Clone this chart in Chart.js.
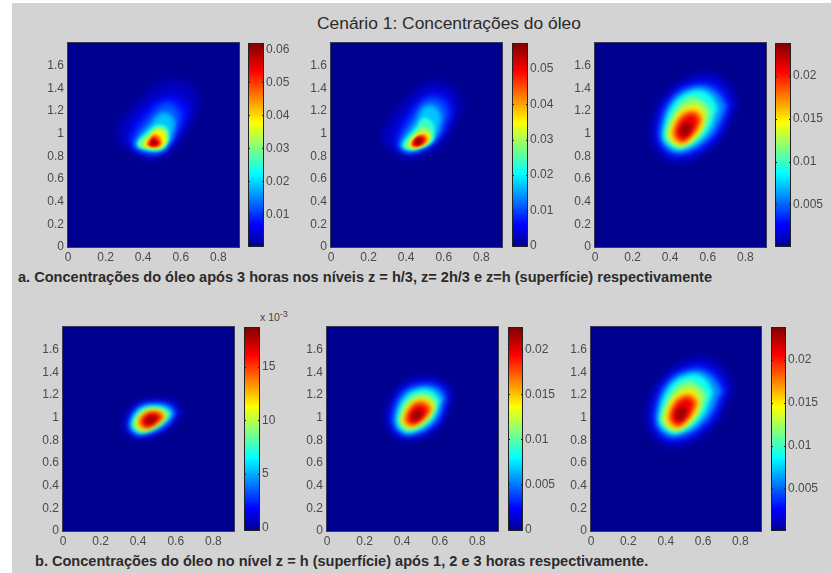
<!DOCTYPE html>
<html>
<head>
<meta charset="utf-8">
<title>Cenário 1: Concentrações do óleo</title>
<script src="https://cdn.jsdelivr.net/npm/chart.js@4"></script>
<style>
    html, body { margin: 0; padding: 0; background: #fff; }
    #page { position: absolute; left: 12px; top: 3px; width: 819px; height: 570px; background: #d3d3d3; }
    #stage { position: absolute; left: 0; top: 0; width: 831px; height: 573px; overflow: hidden; }
    canvas { position: absolute; }
    .txt { position: absolute; font-family: "Liberation Sans", Arial, sans-serif; white-space: nowrap; color: #2b2b2b; }
    #title { left: 317px; top: 13px; font-size: 17.4px; }
    #capA { left: 18px; top: 269px; font-size: 14.55px; font-weight: bold; }
    #capB { left: 35px; top: 553px; font-size: 14.55px; font-weight: bold; }
    #exp { left: 260px; top: 311px; font-size: 10.5px; color: #444; }
    #exp sup { font-size: 9px; line-height: 0; }
</style>
</head>
<body>
<div id="page"></div>
<div id="stage">
    <div class="txt" id="title">Cenário 1: Concentrações do óleo</div>
    <div class="txt" id="capA">a. Concentrações do óleo após 3 horas nos níveis z = h/3, z= 2h/3 e z=h (superfície) respectivamente</div>
    <div class="txt" id="capB">b. Concentrações do óleo no nível z = h (superfície) após 1, 2 e 3 horas respectivamente.</div>
    <div class="txt" id="exp">x 10<sup>-3</sup></div>
</div>
<script>
const xTicks = [0, 0.2, 0.4, 0.6, 0.8];
const yTicks = [0, 0.2, 0.4, 0.6, 0.8, 1, 1.2, 1.4, 1.6];
const xLimit = 0.91;
const yLimit = 1.8;

// colorbar ranges and ticks
const barRanges = [[0.0001, 0.0619], [-0.0003, 0.0573], [0.00005, 0.0238], [-0.3, 18.7], [-0.0002, 0.0225], [0.00005, 0.0238]];
const barTicks = [
    [0.01, 0.02, 0.03, 0.04, 0.05, 0.06],
    [0, 0.01, 0.02, 0.03, 0.04, 0.05],
    [0.005, 0.01, 0.015, 0.02],
    [0, 5, 10, 15],
    [0, 0.005, 0.01, 0.015, 0.02],
    [0.005, 0.01, 0.015, 0.02],
];

// contour lines: level value, then x and y of each line
const levelsH3 = [0.0031, 0.0074, 0.0124, 0.0186, 0.025, 0.031, 0.0385, 0.0465, 0.0542, 0.06];
const xH3 = [
    [0.704, 0.651, 0.526, 0.348, 0.26, 0.322, 0.473, 0.597],
    [0.651, 0.615, 0.517, 0.393, 0.322, 0.357, 0.473, 0.579],
    [0.606, 0.571, 0.508, 0.419, 0.348, 0.366, 0.482, 0.562],
    [0.571, 0.544, 0.494, 0.437, 0.363, 0.37, 0.487, 0.547],
    [0.535, 0.523, 0.473, 0.419, 0.37, 0.38, 0.491, 0.535],
    [0.531, 0.517, 0.473, 0.428, 0.38, 0.393, 0.487, 0.526],
    [0.523, 0.508, 0.464, 0.434, 0.402, 0.414, 0.482, 0.517],
    [0.499, 0.482, 0.455, 0.437, 0.419, 0.428, 0.469, 0.498],
    [0.487, 0.473, 0.455, 0.441, 0.43, 0.437, 0.462, 0.483],
    [0.473, 0.464, 0.453, 0.444, 0.439, 0.444, 0.459, 0.469],
];
const yH3 = [
    [1.3, 1.432, 1.476, 1.241, 1.006, 0.859, 0.785, 0.947],
    [1.182, 1.3, 1.329, 1.182, 0.976, 0.865, 0.824, 0.976],
    [1.153, 1.247, 1.271, 1.124, 0.947, 0.874, 0.835, 0.976],
    [1.094, 1.168, 1.182, 1.079, 0.932, 0.874, 0.844, 0.947],
    [1.021, 1.065, 1.079, 1.012, 0.924, 0.876, 0.853, 0.932],
    [1.006, 1.041, 1.05, 0.991, 0.918, 0.882, 0.865, 0.924],
    [0.962, 1.021, 1.029, 0.976, 0.912, 0.885, 0.874, 0.918],
    [0.932, 0.982, 0.991, 0.962, 0.912, 0.888, 0.879, 0.903],
    [0.918, 0.953, 0.971, 0.947, 0.912, 0.894, 0.888, 0.9],
    [0.915, 0.935, 0.941, 0.929, 0.912, 0.9, 0.897, 0.903],
];

const levels2H3 = [0.0029, 0.0069, 0.0115, 0.0172, 0.0229, 0.0287, 0.0355, 0.043, 0.0501, 0.0556];
const x2H3 = [
    [0.695, 0.651, 0.527, 0.385, 0.27, 0.323, 0.456, 0.598],
    [0.651, 0.616, 0.518, 0.412, 0.341, 0.367, 0.456, 0.58],
    [0.624, 0.589, 0.509, 0.429, 0.364, 0.381, 0.456, 0.571],
    [0.589, 0.562, 0.5, 0.447, 0.371, 0.389, 0.459, 0.553],
    [0.553, 0.527, 0.488, 0.452, 0.381, 0.399, 0.465, 0.541],
    [0.536, 0.518, 0.483, 0.447, 0.399, 0.412, 0.47, 0.53],
    [0.527, 0.509, 0.474, 0.442, 0.417, 0.429, 0.474, 0.518],
    [0.516, 0.5, 0.474, 0.447, 0.426, 0.435, 0.474, 0.509],
    [0.5, 0.488, 0.465, 0.447, 0.435, 0.442, 0.47, 0.495],
    [0.483, 0.474, 0.459, 0.45, 0.443, 0.45, 0.465, 0.481],
];
const y2H3 = [
    [1.241, 1.403, 1.453, 1.271, 0.976, 0.859, 0.8, 0.947],
    [1.212, 1.329, 1.344, 1.182, 0.947, 0.859, 0.835, 0.976],
    [1.182, 1.285, 1.3, 1.138, 0.918, 0.859, 0.85, 0.976],
    [1.138, 1.226, 1.241, 1.094, 0.912, 0.859, 0.859, 0.962],
    [1.05, 1.124, 1.138, 1.05, 0.906, 0.862, 0.865, 0.932],
    [1.006, 1.05, 1.065, 1.006, 0.912, 0.868, 0.874, 0.932],
    [0.976, 1.012, 1.006, 0.976, 0.912, 0.879, 0.882, 0.932],
    [0.962, 0.991, 0.991, 0.962, 0.912, 0.885, 0.888, 0.926],
    [0.953, 0.974, 0.976, 0.953, 0.912, 0.894, 0.894, 0.924],
    [0.941, 0.956, 0.959, 0.941, 0.918, 0.903, 0.903, 0.921],
];

// surface after 3 hours, same field in the top right and bottom right panels
const levelsSurf3 = [0.0014, 0.0033, 0.006, 0.0089, 0.0119, 0.0149, 0.0179, 0.0208, 0.0231];
const xSurf3 = [
    [0.763, 0.70, 0.577, 0.408, 0.30, 0.328, 0.452, 0.65],
    [0.727, 0.665, 0.559, 0.408, 0.332, 0.355, 0.456, 0.635],
    [0.70, 0.644, 0.55, 0.417, 0.349, 0.367, 0.458, 0.615],
    [0.656, 0.612, 0.532, 0.42, 0.364, 0.381, 0.461, 0.59],
    [0.621, 0.577, 0.514, 0.435, 0.376, 0.396, 0.465, 0.575],
    [0.585, 0.559, 0.506, 0.443, 0.394, 0.408, 0.467, 0.56],
    [0.573, 0.541, 0.502, 0.452, 0.413, 0.426, 0.47, 0.545],
    [0.55, 0.527, 0.491, 0.458, 0.431, 0.443, 0.474, 0.53],
    [0.514, 0.502, 0.484, 0.463, 0.452, 0.461, 0.481, 0.506],
];
const ySurf3 = [
    [1.27, 1.46, 1.535, 1.40, 1.09, 0.844, 0.741, 0.918],
    [1.256, 1.41, 1.46, 1.344, 1.08, 0.874, 0.794, 0.947],
    [1.24, 1.37, 1.42, 1.315, 1.05, 0.894, 0.829, 0.976],
    [1.226, 1.344, 1.382, 1.27, 1.02, 0.912, 0.859, 0.991],
    [1.197, 1.285, 1.324, 1.226, 1.006, 0.924, 0.879, 1.02],
    [1.153, 1.235, 1.247, 1.182, 1.006, 0.932, 0.897, 1.02],
    [1.138, 1.197, 1.203, 1.153, 1.012, 0.947, 0.918, 1.03],
    [1.124, 1.168, 1.162, 1.118, 1.02, 0.962, 0.941, 1.035],
    [1.065, 1.10, 1.094, 1.07, 1.012, 0.982, 0.976, 1.02],
];

// surface after 1 hour, levels in units of 10^-3
const levelsSurf1 = [0.84, 2.36, 4.45, 6.8, 9.2, 11.6, 13.95, 16.3, 18.1];
const xSurf1 = [
    [0.639, 0.594, 0.497, 0.39, 0.323, 0.346, 0.417, 0.568],
    [0.612, 0.582, 0.493, 0.394, 0.341, 0.358, 0.417, 0.55],
    [0.594, 0.568, 0.488, 0.399, 0.355, 0.369, 0.422, 0.541],
    [0.582, 0.55, 0.483, 0.408, 0.365, 0.38, 0.429, 0.529],
    [0.564, 0.536, 0.479, 0.417, 0.376, 0.39, 0.436, 0.518],
    [0.55, 0.529, 0.475, 0.422, 0.39, 0.401, 0.443, 0.511],
    [0.541, 0.518, 0.472, 0.429, 0.404, 0.415, 0.451, 0.504],
    [0.525, 0.506, 0.468, 0.436, 0.419, 0.429, 0.458, 0.493],
    [0.50, 0.488, 0.465, 0.447, 0.436, 0.443, 0.465, 0.486],
];
const ySurf1 = [
    [1.054, 1.143, 1.163, 1.128, 0.951, 0.857, 0.81, 0.907],
    [1.046, 1.113, 1.143, 1.099, 0.951, 0.869, 0.834, 0.916],
    [1.04, 1.099, 1.122, 1.084, 0.951, 0.878, 0.851, 0.928],
    [1.034, 1.084, 1.105, 1.069, 0.951, 0.887, 0.863, 0.937],
    [1.025, 1.069, 1.087, 1.054, 0.957, 0.898, 0.878, 0.946],
    [1.016, 1.054, 1.069, 1.04, 0.957, 0.907, 0.892, 0.951],
    [1.01, 1.046, 1.054, 1.025, 0.963, 0.919, 0.907, 0.951],
    [1.004, 1.034, 1.04, 1.016, 0.966, 0.931, 0.922, 0.957],
    [0.993, 1.016, 1.016, 0.999, 0.969, 0.946, 0.94, 0.963],
];

// surface after 2 hours
const levelsSurf2 = [0.0013, 0.0031, 0.0056, 0.0084, 0.0112, 0.014, 0.0169, 0.0197, 0.0218];
const xSurf2 = [
    [0.673, 0.62, 0.531, 0.398, 0.315, 0.336, 0.434, 0.60],
    [0.646, 0.598, 0.517, 0.404, 0.34, 0.358, 0.439, 0.585],
    [0.629, 0.584, 0.51, 0.411, 0.358, 0.372, 0.443, 0.572],
    [0.606, 0.567, 0.505, 0.421, 0.372, 0.386, 0.446, 0.558],
    [0.588, 0.552, 0.496, 0.428, 0.386, 0.40, 0.45, 0.545],
    [0.572, 0.544, 0.492, 0.434, 0.397, 0.411, 0.453, 0.535],
    [0.559, 0.531, 0.489, 0.443, 0.411, 0.425, 0.457, 0.525],
    [0.54, 0.513, 0.482, 0.451, 0.428, 0.439, 0.464, 0.51],
    [0.51, 0.496, 0.478, 0.46, 0.45, 0.457, 0.475, 0.499],
];
const ySurf2 = [
    [1.216, 1.32, 1.358, 1.29, 1.054, 0.878, 0.798, 0.922],
    [1.202, 1.29, 1.311, 1.246, 1.04, 0.892, 0.834, 0.946],
    [1.181, 1.261, 1.281, 1.217, 1.025, 0.898, 0.851, 0.957],
    [1.158, 1.231, 1.252, 1.187, 1.01, 0.907, 0.869, 0.975],
    [1.128, 1.193, 1.211, 1.152, 0.996, 0.922, 0.892, 0.987],
    [1.099, 1.158, 1.172, 1.113, 0.987, 0.928, 0.91, 0.996],
    [1.084, 1.134, 1.149, 1.099, 0.987, 0.94, 0.928, 0.996],
    [1.069, 1.108, 1.113, 1.075, 0.996, 0.957, 0.946, 0.996],
    [1.046, 1.069, 1.063, 1.046, 1.004, 0.981, 0.975, 1.004],
];

// softness of each contour, outermost first
const plumeBlur = [5, 4.5, 3.5, 2.5, 1.8, 1.4, 1.1, 1, 1, 1];
const blobBlur = [3.5, 3, 2.5, 2, 2, 2, 2, 2, 2];

// where each panel sits on the page
const panels = [
    {px: 68, py: 43, pw: 171, ph: 204, bx: 248, bw: 16, blur: plumeBlur, levels: levelsH3, xs: xH3, ys: yH3},
    {px: 331, py: 43, pw: 171, ph: 204, bx: 512, bw: 16, blur: plumeBlur, levels: levels2H3, xs: x2H3, ys: y2H3},
    {px: 595, py: 43, pw: 171, ph: 204, bx: 775, bw: 16, blur: blobBlur, levels: levelsSurf3, xs: xSurf3, ys: ySurf3},
    {px: 63, py: 327, pw: 171, ph: 204, bx: 244, bw: 16, blur: blobBlur, levels: levelsSurf1, xs: xSurf1, ys: ySurf1},
    {px: 327, py: 327, pw: 171, ph: 204, bx: 508, bw: 15, blur: blobBlur, levels: levelsSurf2, xs: xSurf2, ys: ySurf2},
    {px: 591, py: 327, pw: 170, ph: 204, bx: 771, bw: 15, blur: blobBlur, levels: levelsSurf3, xs: xSurf3, ys: ySurf3},
];

const JET = [[0, 0, 0, 143], [0.11, 0, 0, 255], [0.36, 0, 255, 255], [0.61, 255, 255, 0], [0.86, 255, 0, 0], [1, 128, 0, 0]];
const LABEL_FONT = {family: '"Liberation Sans", Arial, sans-serif', size: 12};
const LABEL_COLOR = '#4a4a4a';

function jetColor(f) {
    for (let i = 1; i < JET.length; i++) {
        if (f <= JET[i][0]) {
            const a = JET[i - 1], b = JET[i];
            const t = (f - a[0]) / (b[0] - a[0]);
            const c = [1, 2, 3].map(k => Math.round(a[k] + (b[k] - a[k]) * t));
            return `rgb(${c[0]}, ${c[1]}, ${c[2]})`;
        }
    }
    return 'rgb(128, 0, 0)';
}

function addCanvas(left, top, width, height) {
    const canvas = document.createElement('canvas');
    canvas.width = width;
    canvas.height = height;
    canvas.style.left = left + 'px';
    canvas.style.top = top + 'px';
    canvas.style.width = width + 'px';
    canvas.style.height = height + 'px';
    document.getElementById('stage').appendChild(canvas);
    return canvas;
}

// dark blue field under the contours, soft edges for the contours themselves
function fieldPlugin(blur) {
    return {
        id: 'field',
        beforeDatasetsDraw(chart) {
            const {ctx, chartArea: a} = chart;
            ctx.save();
            ctx.fillStyle = '#00008f';
            ctx.fillRect(a.left, a.top, a.width, a.height);
            ctx.filter = `blur(${blur[0]}px)`;
        },
        // the filler paints in beforeDatasetDraw ahead of this plugin, so set up the next contour here
        afterDatasetDraw(chart, args) {
            const next = blur[args.index + 1];
            if (next) chart.ctx.filter = `blur(${next}px)`;
        },
        afterDatasetsDraw(chart) {
            const {ctx, chartArea: a} = chart;
            ctx.restore();
            ctx.strokeStyle = '#3a3a55';
            ctx.lineWidth = 1;
            ctx.strokeRect(a.left - 0.5, a.top - 0.5, a.width + 1, a.height + 1);
        },
    };
}

const barTickPlugin = {
    id: 'barTicks',
    afterDatasetsDraw(chart) {
        const {ctx, chartArea: a, scales} = chart;
        ctx.strokeStyle = '#222';
        ctx.lineWidth = 1;
        ctx.strokeRect(a.left + 0.5, a.top + 0.5, a.width - 1, a.height - 1);
        ctx.beginPath();
        scales.y.ticks.forEach(t => {
            const y = Math.round(scales.y.getPixelForValue(t.value)) + 0.5;
            ctx.moveTo(a.left, y);
            ctx.lineTo(a.left + 2, y);
            ctx.moveTo(a.right - 2, y);
            ctx.lineTo(a.right, y);
        });
        ctx.stroke();
    },
};

// axes must not reserve extra room for half a label, the plot size is fixed
function noLabelPadding(s) {
    s.paddingTop = 0;
    s.paddingBottom = 0;
    s.paddingLeft = 0;
    s.paddingRight = 0;
}

function drawField(p) {
    const leftRoom = 44, topRoom = 6, rightRoom = 8, bottomRoom = 22;
    const canvas = addCanvas(p.px - leftRoom, p.py - topRoom, p.pw + leftRoom + rightRoom, p.ph + topRoom + bottomRoom);
    const range = barRanges[panels.indexOf(p)];
    const datasets = p.levels.map((level, i) => {
        const points = p.xs[i].map((x, k) => ({x: x, y: p.ys[i][k]}));
        points.push(points[0]);
        return {
            data: points,
            order: -i,
            fill: 'shape',
            tension: 0.4,
            borderWidth: 0,
            pointRadius: 0,
            backgroundColor: jetColor((level - range[0]) / (range[1] - range[0])),
        };
    });
    new Chart(canvas, {
        type: 'line',
        data: {datasets},
        plugins: [fieldPlugin(p.blur)],
        options: {
            responsive: false,
            animation: false,
            events: [],
            layout: {padding: {top: topRoom, right: rightRoom}},
            plugins: {
                legend: {display: false},
                tooltip: {enabled: false},
                filler: {drawTime: 'beforeDatasetDraw'},
            },
            scales: {
                x: {
                    type: 'linear',
                    min: 0,
                    max: xLimit,
                    grid: {display: false, drawTicks: false},
                    border: {display: false},
                    afterBuildTicks: s => { s.ticks = xTicks.map(v => ({value: v})); },
                    afterFit: s => { s.height = bottomRoom; noLabelPadding(s); },
                    ticks: {
                        autoSkip: false, maxRotation: 0, padding: 3,
                        color: LABEL_COLOR, font: LABEL_FONT,
                        callback: v => String(v),
                    },
                },
                y: {
                    type: 'linear',
                    min: 0,
                    max: yLimit,
                    grid: {display: false, drawTicks: false},
                    border: {display: false},
                    afterBuildTicks: s => { s.ticks = yTicks.map(v => ({value: v})); },
                    afterFit: s => { s.width = leftRoom; noLabelPadding(s); },
                    ticks: {
                        autoSkip: false, padding: 4,
                        color: LABEL_COLOR, font: LABEL_FONT,
                        callback: v => String(v),
                    },
                },
            },
        },
    });
}

function drawColorbar(p, range, ticks) {
    const labelRoom = 40, pad = 7;
    const canvas = addCanvas(p.bx, p.py - pad, p.bw + labelRoom, p.ph + pad * 2);
    new Chart(canvas, {
        type: 'bar',
        data: {
            labels: [''],
            datasets: [{
                data: [[range[0], range[1]]],
                barPercentage: 1,
                categoryPercentage: 1,
                backgroundColor: ctx => {
                    const area = ctx.chart.chartArea;
                    if (!area) return '#00008f';
                    const g = ctx.chart.ctx.createLinearGradient(0, area.bottom, 0, area.top);
                    JET.forEach(s => g.addColorStop(s[0], `rgb(${s[1]}, ${s[2]}, ${s[3]})`));
                    return g;
                },
            }],
        },
        plugins: [barTickPlugin],
        options: {
            responsive: false,
            animation: false,
            events: [],
            layout: {padding: {top: pad, bottom: pad}},
            plugins: {legend: {display: false}, tooltip: {enabled: false}},
            scales: {
                x: {display: false},
                y: {
                    position: 'right',
                    min: range[0],
                    max: range[1],
                    grid: {display: false, drawTicks: false},
                    border: {display: false},
                    afterBuildTicks: s => { s.ticks = ticks.map(v => ({value: v})); },
                    afterFit: s => { s.width = labelRoom; noLabelPadding(s); },
                    ticks: {
                        autoSkip: false, padding: 2,
                        color: LABEL_COLOR, font: LABEL_FONT,
                        callback: v => String(v),
                    },
                },
            },
        },
    });
}

panels.forEach((p, i) => {
    drawField(p);
    drawColorbar(p, barRanges[i], barTicks[i]);
});
</script>
</body>
</html>
